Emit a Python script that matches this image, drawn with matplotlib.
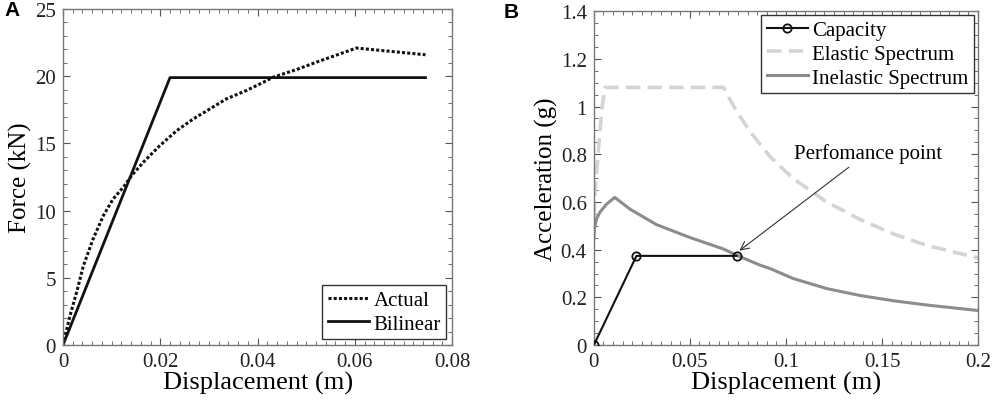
import numpy as np
import matplotlib.pyplot as plt
from matplotlib.ticker import MultipleLocator

plt.rcParams['font.family'] = ['Liberation Serif', 'DejaVu Serif']

# Panel A - force vs displacement
actual_x = [0, 0.00144, 0.0028, 0.0042, 0.0062, 0.0083, 0.0103, 0.0124, 0.0141, 0.0165,
            0.0199, 0.0234, 0.0268, 0.0302, 0.0336, 0.0377, 0.0405, 0.0432, 0.048,
            0.0521, 0.0603, 0.0745]
actual_y = [0, 2.18, 3.92, 5.9, 7.9, 9.63, 10.87, 11.74, 12.6, 13.6,
            14.84, 15.96, 16.83, 17.57, 18.32, 18.94, 19.43, 19.93, 20.5,
            21.05, 22.1, 21.6]
bilinear_x = [0, 0.022, 0.0745]
bilinear_y = [0, 19.9, 19.9]

# Panel B - capacity spectrum
capacity_x = [0, 0.0222, 0.0743]
capacity_y = [0, 0.374, 0.374]
elastic_x = [0, 0.0005, 0.0023, 0.004, 0.0057, 0.0674, 0.0743, 0.0813, 0.0882, 0.0917,
             0.1038, 0.1212, 0.1385, 0.1559, 0.1733, 0.2]
elastic_y = [0.444, 0.626, 0.808, 0.976, 1.08, 1.08, 0.98, 0.895, 0.825, 0.79,
             0.698, 0.6, 0.527, 0.466, 0.418, 0.365]
inelastic_x = [0, 0.0002, 0.0014, 0.0031, 0.0066, 0.0109, 0.0188, 0.0326, 0.05, 0.0674,
               0.0743, 0.0865, 0.0917, 0.1038, 0.1212, 0.1385, 0.1559, 0.1733, 0.2]
inelastic_y = [0.444, 0.486, 0.528, 0.556, 0.591, 0.619, 0.57, 0.505, 0.451, 0.403,
               0.377, 0.335, 0.321, 0.279, 0.237, 0.208, 0.186, 0.168, 0.145]
perf_point = (0.0743, 0.374)

fig = plt.figure(figsize=(9.93, 4.02), dpi=100)
ax1 = fig.add_axes([0.0634, 0.139, 0.392, 0.836])
ax2 = fig.add_axes([0.598, 0.139, 0.387, 0.831])

for ax in (ax1, ax2):
    ax.tick_params(which='both', direction='in', top=True, right=True, labelsize=15,
                   color='#555555', labelcolor='#222222')
    ax.tick_params(which='major', length=5, pad=5)
    ax.tick_params(which='minor', length=3)
    for sp in ax.spines.values():
        sp.set_color('#777777')
        sp.set_linewidth(1.0)

ax1.plot(actual_x, actual_y, color='#111111', lw=2.2, linestyle=(0, (1, 0.7)), label='Actual')
ax1.plot(bilinear_x, bilinear_y, color='#111111', lw=2.0, label='Bilinear')
ax1.set_xlim(0, 0.08)
ax1.set_ylim(0, 25)
ax1.set_xticks([0, 0.02, 0.04, 0.06, 0.08])
ax1.set_xticklabels(['0', '0.02', '0.04', '0.06', '0.08'])
ax1.xaxis.set_minor_locator(MultipleLocator(0.002))
ax1.yaxis.set_minor_locator(MultipleLocator(1))
ax1.set_xlabel('Displacement (m)', fontsize=19, labelpad=0)
ax1.set_ylabel('Force (kN)', fontsize=18, labelpad=2)
leg1 = ax1.legend(loc='lower right', fontsize=15, frameon=True, fancybox=False,
                  handlelength=2.0, handletextpad=0.2, borderpad=0.25, labelspacing=0.2,
                  borderaxespad=0.3)
leg1.get_frame().set_edgecolor('#333333')
leg1.get_frame().set_alpha(1)
ax1.text(-0.15, 1.0, 'A', transform=ax1.transAxes, fontsize=15, fontweight='bold',
         family='Liberation Sans', va='center', ha='left')

ax2.plot(capacity_x, capacity_y, color='#111111', lw=1.5, marker='o', markersize=6,
         markerfacecolor='none', markeredgewidth=1.3, label='Capacity', zorder=4)
ax2.plot(elastic_x, elastic_y, color='#d4d4d4', lw=2.6, linestyle=(0, (4, 2)), label='Elastic Spectrum')
ax2.plot(inelastic_x, inelastic_y, color='#8c8c8c', lw=2.2, label='Inelastic Spectrum')
ax2.set_xlim(0, 0.2)
ax2.set_ylim(0, 1.4)
ax2.set_xticks([0, 0.05, 0.1, 0.15, 0.2])
ax2.set_xticklabels(['0', '0.05', '0.1', '0.15', '0.2'])
ax2.set_yticks([0, 0.2, 0.4, 0.6, 0.8, 1.0, 1.2, 1.4])
ax2.set_yticklabels(['0', '0.2', '0.4', '0.6', '0.8', '1', '1.2', '1.4'])
ax2.xaxis.set_minor_locator(MultipleLocator(0.005))
ax2.yaxis.set_minor_locator(MultipleLocator(0.05))
ax2.set_xlabel('Displacement (m)', fontsize=19, labelpad=0)
ax2.set_ylabel('Acceleration (g)', fontsize=18, labelpad=2)
leg2 = ax2.legend(loc='upper right', fontsize=15, frameon=True, fancybox=False,
                  handlelength=2.0, handletextpad=0.2, borderpad=0.25, labelspacing=0.2,
                  borderaxespad=0.2, numpoints=1)
leg2.get_frame().set_edgecolor('#333333')
leg2.get_frame().set_alpha(1)
ax2.annotate('Perfomance point', xy=(perf_point[0] + 0.0015, perf_point[1] + 0.022),
             xytext=(0.104, 0.785), fontsize=15,
             arrowprops=dict(arrowstyle='->', color='#333333', lw=0.8, shrinkA=2, shrinkB=0))
ax2.text(-0.235, 1.0, 'B', transform=ax2.transAxes, fontsize=15, fontweight='bold',
         family='Liberation Sans', va='center', ha='left')

fig.savefig('out.png', dpi=100)
